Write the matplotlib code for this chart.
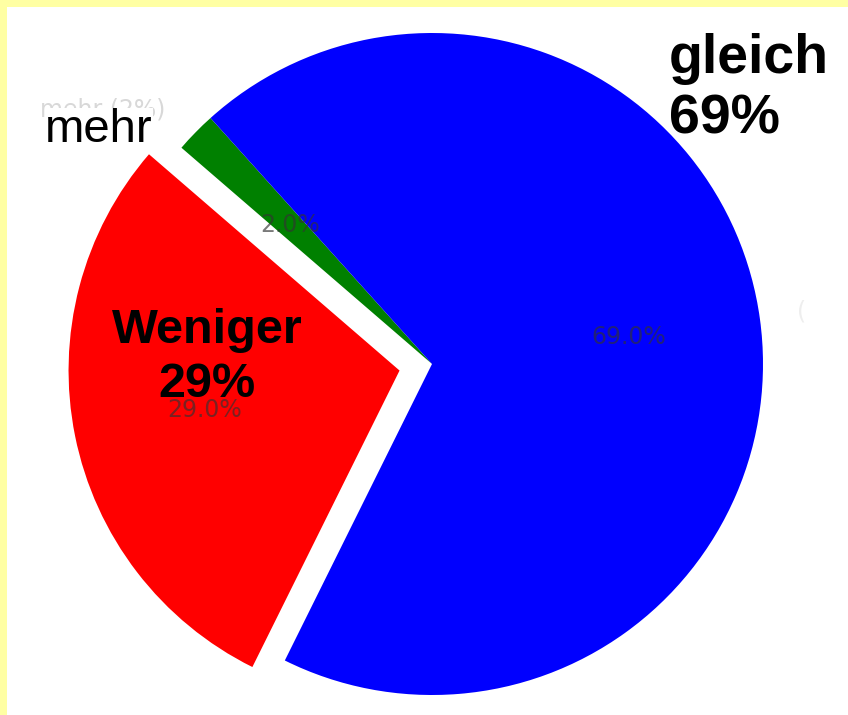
import matplotlib
matplotlib.use("Agg")
import matplotlib.pyplot as plt
from matplotlib.patches import Rectangle

labels = ["mehr", "Weniger", "gleich"]
values = [2, 29, 69]
colors = ["#008000", "#ff0000", "#0000ff"]
explode = [0, 0.1, 0]
big_pct = ["2%", "29%", "69%"]

W, H = 848, 715
fig = plt.figure(figsize=(W / 100, H / 100), dpi=100)
fig.patch.set_facecolor("white")

# yellow frame bands (top and left)
fig.patches.append(Rectangle((0, 1 - 7 / H), 1, 7 / H, transform=fig.transFigure,
                             facecolor="#ffffa3", edgecolor="none", zorder=0))
fig.patches.append(Rectangle((0, 0), 7 / W, 1, transform=fig.transFigure,
                             facecolor="#ffffa3", edgecolor="none", zorder=0))

cx, cy, R = 432, 364, 331
ax = fig.add_axes([0, 0, 1, 1 - 7 / H])
ax.set_facecolor("none")
ax.pie(values, colors=colors, explode=explode, startangle=132,
       autopct="%1.1f%%", pctdistance=0.6, labeldistance=None,
       wedgeprops=dict(linewidth=0),
       textprops=dict(color="#333333", alpha=0.65, fontsize=17,
                      family="DejaVu Sans"))
ax.set_aspect("auto")
ax.set_xlim(-cx / R, (W - cx) / R)
ax.set_ylim(-(H - cy) / R, (cy - 7) / R)
ax.axis("off")


def fx(x):
    return x / W


def fy(y):
    return 1 - y / H


# ghost labels
fig.text(fx(40), fy(117), f"{labels[0]} ({big_pct[0]})", fontsize=17,
         color="#d8d8d8", family="DejaVu Sans", ha="left", va="baseline",
         zorder=5)
fig.text(fx(797), fy(318), "(", fontsize=17, color="#eeeeee",
         family="DejaVu Sans", ha="left", va="baseline", zorder=5)

# main labels
fig.text(fx(45), fy(142), labels[0], fontsize=34, color="black",
         family="Liberation Sans", ha="left", va="baseline", zorder=6,
         bbox=dict(facecolor="white", edgecolor="none", pad=0))
fig.text(fx(669), fy(73), labels[2], fontsize=40, fontweight="bold",
         color="black", family="Liberation Sans", ha="left", va="baseline",
         zorder=6)
fig.text(fx(669), fy(134), big_pct[2], fontsize=40, fontweight="bold",
         color="black", family="Liberation Sans", ha="left", va="baseline",
         zorder=6)
fig.text(fx(207), fy(343), labels[1], fontsize=35, fontweight="bold",
         color="black", family="Liberation Sans", ha="center", va="baseline",
         zorder=6)
fig.text(fx(207), fy(397), big_pct[1], fontsize=35, fontweight="bold",
         color="black", family="Liberation Sans", ha="center", va="baseline",
         zorder=6)

fig.savefig("out.png", dpi=100, facecolor=fig.get_facecolor())
